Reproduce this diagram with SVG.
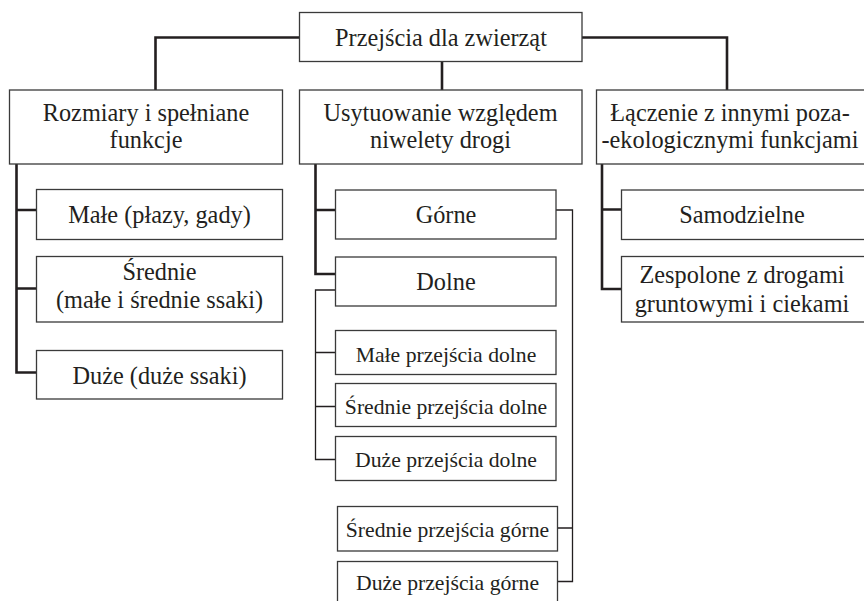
<svg xmlns="http://www.w3.org/2000/svg" width="864" height="601" viewBox="0 0 864 601">
<style>
.box{fill:#fff;stroke:#3a3a3a;stroke-width:1.3}
.t{font-family:"Liberation Serif","DejaVu Serif",serif;font-size:24.3px;fill:#231f20;text-anchor:middle}
.s{font-size:21.7px}
.thick{fill:none;stroke:#231f20;stroke-width:2.6}
.thin{fill:none;stroke:#231f20;stroke-width:1.3}
</style>
<rect width="864" height="601" fill="#fff"/>
<g id="connectors">
<path class="thick" d="M299.5,37.5 H155.5 V90"/>
<path class="thick" d="M442,62 V90"/>
<path class="thick" d="M582,37.5 H727 V90"/>
<path class="thick" d="M16.5,164 V372.5 H36.5 M16.5,210 H36.5 M16.5,288.5 H36.5"/>
<path class="thick" d="M315.5,164 V274 H335.5 M315.5,210 H335.5"/>
<path class="thin" d="M335.5,290 H315.5 V459.5 H335.5 M315.5,352.5 H335.5 M315.5,406.5 H335.5"/>
<path class="thin" d="M556,210 H572.5 V581.5 H557.5 M572.5,528 H557.5"/>
<path class="thick" d="M602,164 V289 H621.5 M602,209.5 H621.5"/>
</g>
<g id="n-root"><rect class="box" x="299.5" y="12.5" width="282.5" height="49"/><text class="t" x="441" y="45.5">Przejścia dla zwierząt</text></g>
<g id="n-rozmiary"><rect class="box" x="9.5" y="90" width="273" height="74"/><text class="t" x="146" y="120.5">Rozmiary i spełniane</text><text class="t" x="146" y="148">funkcje</text></g>
<g id="n-usytuowanie"><rect class="box" x="299.5" y="90" width="282.5" height="74"/><text class="t" x="440.5" y="120.5">Usytuowanie względem</text><text class="t" x="440.5" y="148">niwelety drogi</text></g>
<g id="n-laczenie"><rect class="box" x="596.5" y="90" width="272" height="74"/><text class="t" x="730" y="120.5">Łączenie z innymi poza-</text><text class="t" x="730" y="148">-ekologicznymi funkcjami</text></g>
<g id="n-male"><rect class="box" x="36.5" y="189.5" width="246" height="50"/><text class="t" x="159.5" y="223">Małe (płazy, gady)</text></g>
<g id="n-srednie"><rect class="box" x="36.5" y="256.5" width="246" height="65.5"/><text class="t" x="159.5" y="280">Średnie</text><text class="t" x="159.5" y="308">(małe i średnie ssaki)</text></g>
<g id="n-duze"><rect class="box" x="36.5" y="350.5" width="246" height="48.5"/><text class="t" x="159.5" y="384">Duże (duże ssaki)</text></g>
<g id="n-gorne"><rect class="box" x="335.5" y="190" width="220.5" height="49"/><text class="t" x="446" y="223">Górne</text></g>
<g id="n-dolne"><rect class="box" x="335.5" y="257" width="220.5" height="49"/><text class="t" x="446" y="290">Dolne</text></g>
<g id="n-male-dolne"><rect class="box" x="335.5" y="330.5" width="220.5" height="44"/><text class="t s" x="446" y="361.5">Małe przejścia dolne</text></g>
<g id="n-srednie-dolne"><rect class="box" x="335.5" y="383.5" width="220.5" height="43"/><text class="t s" x="446" y="413.5">Średnie przejścia dolne</text></g>
<g id="n-duze-dolne"><rect class="box" x="335.5" y="436.5" width="220.5" height="44"/><text class="t s" x="446" y="466.5">Duże przejścia dolne</text></g>
<g id="n-srednie-gorne"><rect class="box" x="337.5" y="506.5" width="220" height="44.5"/><text class="t s" x="447.5" y="536.5">Średnie przejścia górne</text></g>
<g id="n-duze-gorne"><rect class="box" x="337.5" y="561.5" width="220" height="45"/><text class="t s" x="447.5" y="590">Duże przejścia górne</text></g>
<g id="n-samodzielne"><rect class="box" x="621.5" y="190" width="247" height="49.5"/><text class="t" x="742" y="223">Samodzielne</text></g>
<g id="n-zespolone"><rect class="box" x="621.5" y="256.5" width="247" height="65.5"/><text class="t" x="742" y="283">Zespolone z drogami</text><text class="t" x="742" y="311.5">gruntowymi i ciekami</text></g>
</svg>
